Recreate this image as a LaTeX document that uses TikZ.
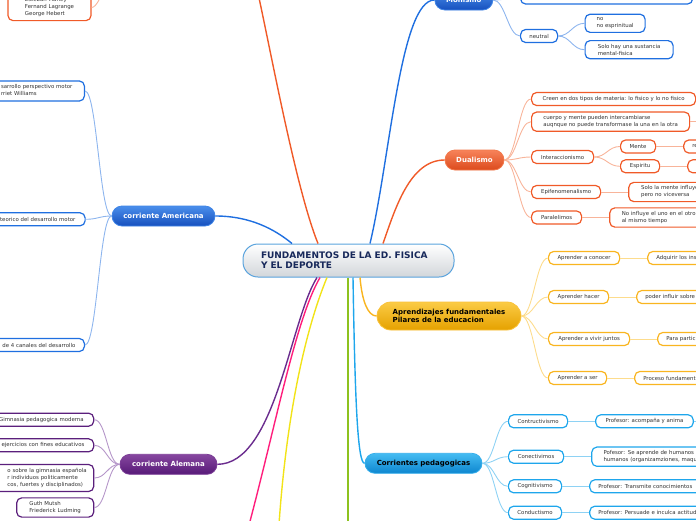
\documentclass[tikz,border=0pt]{standalone}
\usepackage{fontspec}
\setmainfont{DejaVu Sans}
\usetikzlibrary{positioning}

\definecolor{rootline}{HTML}{5AA3DD}
\definecolor{rootgray}{HTML}{D2D6DA}
\definecolor{rootnavy}{HTML}{17285A}
\definecolor{leafgray}{HTML}{333333}
\definecolor{blueline}{HTML}{1F6FE0}
\definecolor{bluetwig}{HTML}{8DB5EE}
\definecolor{orangeline}{HTML}{F05A28}
\definecolor{orangetwig}{HTML}{F8B49A}
\definecolor{yellowline}{HTML}{F9B520}
\definecolor{yellowtwig}{HTML}{FDDC8C}
\definecolor{cyanline}{HTML}{1EA6EC}
\definecolor{cyantwig}{HTML}{8ED2F4}
\definecolor{purpleline}{HTML}{5B1F7C}
\definecolor{purpletwig}{HTML}{B596C9}
\definecolor{greenline}{HTML}{8DC21F}
\definecolor{lemonline}{HTML}{F2E318}
\definecolor{pinkline}{HTML}{FF1E7C}
\definecolor{violetline}{HTML}{6A2C8E}
\definecolor{blueedge}{HTML}{3F84E6}
\definecolor{bluetop}{HTML}{4A8EEB}
\definecolor{bluebottom}{HTML}{1650BE}
\definecolor{orangeedge}{HTML}{F2784A}
\definecolor{orangetop}{HTML}{F7835A}
\definecolor{orangebottom}{HTML}{DC4A1C}
\definecolor{yellowedge}{HTML}{F9C23A}
\definecolor{yellowtop}{HTML}{FBCB45}
\definecolor{yellowbottom}{HTML}{E5A100}
\definecolor{cyanedge}{HTML}{35AEEB}
\definecolor{cyantop}{HTML}{45BCF2}
\definecolor{cyanbottom}{HTML}{0D86CF}
\definecolor{purpleedge}{HTML}{7B3D96}
\definecolor{purpletop}{HTML}{86479F}
\definecolor{purplebottom}{HTML}{571A78}

\begin{document}
\begin{tikzpicture}[
    x=1pt, y=-1pt,
    node distance=27pt,
    root/.style={draw=rootline, line width=1pt, rounded corners=15pt, top color=white, bottom color=rootgray, text=rootnavy, font=\fontsize{9}{10}\selectfont\bfseries, text width=175pt, align=left, inner xsep=18pt, minimum height=33pt},
    branch/.style={rounded corners=10pt, line width=0.8pt, minimum height=20pt, font=\fontsize{7}{8}\selectfont\bfseries, text=white},
    bluebranch/.style={branch, draw=blueedge, top color=bluetop, bottom color=bluebottom},
    orangebranch/.style={branch, draw=orangeedge, top color=orangetop, bottom color=orangebottom},
    yellowbranch/.style={branch, draw=yellowedge, top color=yellowtop, bottom color=yellowbottom, text=black},
    cyanbranch/.style={branch, draw=cyanedge, top color=cyantop, bottom color=cyanbottom, text=black},
    purplebranch/.style={branch, draw=purpleedge, top color=purpletop, bottom color=purplebottom},
    leaf/.style={draw, fill=white, rounded corners=5pt, line width=1.2pt, minimum height=13pt, inner xsep=8.5pt, inner ysep=3.5pt, font=\fontsize{5.4}{7}\selectfont, text=leafgray, align=left},
    cutleft/.style={leaf, anchor=east, text width=110pt, align=right},
    cutright/.style={leaf, text width=100pt, align=left},
    trunk/.style={line width=1.4pt},
    twig/.style={line width=0.9pt}
]
\useasboundingbox (0,0) rectangle (696,520);
\clip (0,0) rectangle (696,520);

\node[root] (fund) at (348.5,260.5) {FUNDAMENTOS DE LA ED. FISICA\\Y EL DEPORTE};

\coordinate (histA) at (250,-40);
\coordinate (histB) at (125,-40);
\coordinate (verde) at (348,530);
\coordinate (amarillo) at (278,540);
\coordinate (rosa) at (245,540);

\node[leaf, draw=orangeline, minimum width=83pt] (deportistas) at (49.5,7.5) {Esteban Marley\\Fernand Lagrange\\George Hebert};

\node[bluebranch, minimum width=103pt] (americana) at (163.5,216) {corriente Americana};
\node[cutleft, draw=blueline, inner xsep=12pt, inner ysep=3pt] (perspectivo) at (85,91) {\begin{tabular}{@{}l@{}}sarrollo perspectivo motor\\rriet Williams\end{tabular}};
\node[cutleft, draw=blueline, inner xsep=9.7pt] (teorico) at (85.7,219.3) {teorico del desarrollo motor};
\node[cutleft, draw=blueline, inner xsep=9pt] (canales) at (85,345) {de 4 canales del desarrollo};

\node[purplebranch, minimum width=97pt] (alemana) at (168.5,464.3) {corriente Alemana};
\node[cutleft, draw=purpleline, inner xsep=10pt] (gimnasia) at (94.3,419.7) {Gimnasia pedagogica moderna};
\node[cutleft, draw=purpleline, inner xsep=9.3pt] (ejercicios) at (94.3,445.3) {ejercicios con fines educativos};
\node[cutleft, draw=purpleline, inner xsep=7pt, inner ysep=3pt] (espanola) at (94.3,478) {\begin{tabular}{@{}l@{}}o sobre la gimnasia española\\r individuos politicamente\\cos, fuertes y disciplinados)\end{tabular}};
\node[leaf, draw=purpleline, minimum width=77pt, anchor=east] (guth) at (94.3,507.5) {Guth Mutsh\\Friederick Ludming};

\node[bluebranch, minimum width=58pt] (monismo) at (463.8,0) {Monismo};
\node[leaf, draw=blueline, minimum width=172pt, anchor=west] (materia) at (520,-2.5) {};
\node[leaf, draw=blueline, minimum width=37pt, anchor=west] (neutral) at (520,36) {neutral};
\node[leaf, draw=blueline, minimum width=60pt, anchor=west] (noesp) at (584.5,23.3) {no\\no esprinitual};
\node[leaf, draw=blueline, minimum width=88pt, anchor=west] (sustancia) at (584.5,49.7) {Solo hay una sustancia\\mental-fisica};

\node[orangebranch, minimum width=59pt] (dualismo) at (474.5,160) {Dualismo};
\node[leaf, draw=orangeline, minimum width=164pt, anchor=west] (creen) at (531,99) {Creen en dos tipos de materia: lo fisico y lo no fisico};
\node[leaf, draw=orangeline, minimum width=158pt, anchor=west] (cuerpo) at (531,121.7) {cuerpo y mente pueden intercambiarse\\auqnque no puede transformase la una en la otra};
\node[leaf, draw=orangeline, minimum width=62pt, anchor=west] (interac) at (531,157) {Interaccionismo};
\node[leaf, draw=orangeline, minimum width=35pt, anchor=west] (mente) at (620,146.5) {Mente};
\node[leaf, draw=orangeline, minimum width=39pt, anchor=west] (espiritu) at (620,166.3) {Espiritu};
\node[cutright, draw=orangeline, right=of mente] (menteB) {re};
\node[cutright, draw=orangeline, right=of espiritu] (espirituB) {r};
\node[leaf, draw=orangeline, minimum width=69pt, anchor=west] (epife) at (531,192) {Epifenomenalismo};
\node[cutright, draw=orangeline, inner xsep=12.3pt, right=of epife] (epifeB) {Solo la mente influye\\pero no viceversa};
\node[leaf, draw=orangeline, minimum width=50pt, anchor=west] (parale) at (531,217.5) {Paralelimos};
\node[cutright, draw=orangeline, inner xsep=12pt, right=of parale] (paraleB) {No influye el uno en el otro\\al mismo tiempo};
\coordinate (cuerpoC) at (720,121.7);

\node[yellowbranch, minimum width=144pt, minimum height=28pt, rounded corners=14pt, align=left] (aprend) at (449,316) {Aprendizajes fundamentales\\Pilares de la educacion};
\node[leaf, draw=yellowline, minimum width=71pt, anchor=west] (conocer) at (548,258) {Aprender a conocer};
\node[cutright, draw=yellowline, right=of conocer] (conocerB) {Adquirir los ins};
\node[leaf, draw=yellowline, minimum width=60pt, anchor=west] (hacer) at (548,297) {Aprender hacer};
\node[cutright, draw=yellowline, right=of hacer] (hacerB) {poder influir sobre};
\node[leaf, draw=yellowline, minimum width=81pt, anchor=west] (vivir) at (548,339) {Aprender a vivir juntos};
\node[cutright, draw=yellowline, right=of vivir] (vivirB) {Para partici};
\node[leaf, draw=yellowline, minimum width=58pt, anchor=west] (ser) at (548,378) {Aprender a ser};
\node[cutright, draw=yellowline, right=of ser] (serB) {Proceso fundament};

\node[cyanbranch, minimum width=117pt] (corrientes) at (423.5,463.3) {Corrientes pedagogicas};
\node[leaf, draw=cyanline, minimum width=59pt, anchor=west] (constr) at (508,421.3) {Contructivismo};
\node[leaf, draw=cyanline, minimum width=97.4pt, right=of constr] (constrB) {Profesor: acompaña y anima};
\node[leaf, draw=cyanline, minimum width=55pt, anchor=west] (conect) at (508,456.7) {Conectivimos};
\node[cutright, draw=cyanline, inner xsep=11.7pt, right=of conect] (conectB) {Pofesor: Se aprende de humanos\\humanos (organizamziones, maqu};
\node[leaf, draw=cyanline, minimum width=53pt, anchor=west] (cognit) at (508,486.3) {Cognitivismo};
\node[cutright, draw=cyanline, right=of cognit] (cognitB) {Profesor: Transmite conocimientos};
\node[leaf, draw=cyanline, minimum width=53pt, anchor=west] (conduct) at (508,512.7) {Conductismo};
\node[cutright, draw=cyanline, right=of conduct] (conductB) {Profesor: Persuade e inculca actitud};
\coordinate (constrC) at (720,421.3);

\draw[trunk, blueline] ([xshift=-56.5pt]fund.north) .. controls +(-17,-14) and +(35,0) .. (americana.east);
\draw[trunk, orangeline] ([xshift=-30.5pt]fund.north) .. controls +(-26,-64) and +(12,40) .. (histA);
\draw[trunk, blueline] ([xshift=21.5pt]fund.north) .. controls +(20,-84) and +(-34,0) .. (monismo.west);
\draw[trunk, orangeline] ([xshift=34.5pt]fund.north) .. controls +(12,-34) and +(-35,0) .. (dualismo.west);
\draw[trunk, yellowline] ([xshift=11.5pt]fund.south) .. controls +(2,23) and +(-9,0) .. (aprend.west);
\draw[trunk, cyanline] ([xshift=4.5pt]fund.south) .. controls +(2,123) and +(-7,0) .. (corrientes.west);
\draw[trunk, greenline] ([xshift=-0.5pt]fund.south) -- (verde);
\draw[trunk, lemonline] ([xshift=-21.5pt]fund.south) .. controls +(-22,53) and +(7,-120) .. (amarillo);
\draw[trunk, pinkline] ([xshift=-28.5pt]fund.south) .. controls +(-25,43) and +(30,-110) .. (rosa);
\draw[trunk, violetline] ([xshift=-31.5pt]fund.south) .. controls +(-27,43) and +(58,0) .. (alemana.east);

\draw[twig, orangetwig] (deportistas.east) .. controls +(10,0) and +(-15,0) .. (histB);

\draw[twig, bluetwig] (americana.west) .. controls +(-12,0) and +(12,0) .. (perspectivo.east);
\draw[twig, bluetwig] (americana.west) .. controls +(-12,0) and +(12,0) .. (teorico.east);
\draw[twig, bluetwig] (americana.west) .. controls +(-12,0) and +(12,0) .. (canales.east);

\draw[twig, purpletwig] (alemana.west) .. controls +(-12,0) and +(12,0) .. (gimnasia.east);
\draw[twig, purpletwig] (alemana.west) .. controls +(-12,0) and +(12,0) .. (ejercicios.east);
\draw[twig, purpletwig] (alemana.west) .. controls +(-12,0) and +(12,0) .. (espanola.east);
\draw[twig, purpletwig] (alemana.west) .. controls +(-12,0) and +(12,0) .. (guth.east);

\draw[twig, bluetwig] (monismo.east) .. controls +(12,0) and +(-12,0) .. (materia.west);
\draw[twig, bluetwig] (monismo.east) .. controls +(12,0) and +(-12,0) .. (neutral.west);
\draw[twig, bluetwig] (neutral.east) .. controls +(12,0) and +(-12,0) .. (noesp.west);
\draw[twig, bluetwig] (neutral.east) .. controls +(12,0) and +(-12,0) .. (sustancia.west);

\draw[twig, orangetwig] (dualismo.east) .. controls +(12,0) and +(-12,0) .. (creen.west);
\draw[twig, orangetwig] (dualismo.east) .. controls +(12,0) and +(-12,0) .. (cuerpo.west);
\draw[twig, orangetwig] (dualismo.east) .. controls +(12,0) and +(-12,0) .. (interac.west);
\draw[twig, orangetwig] (dualismo.east) .. controls +(12,0) and +(-12,0) .. (epife.west);
\draw[twig, orangetwig] (dualismo.east) .. controls +(12,0) and +(-12,0) .. (parale.west);
\draw[twig, orangetwig] (cuerpo.east) -- (cuerpoC);
\draw[twig, orangetwig] (interac.east) .. controls +(12,0) and +(-12,0) .. (mente.west);
\draw[twig, orangetwig] (interac.east) .. controls +(12,0) and +(-12,0) .. (espiritu.west);
\draw[twig, orangetwig] (mente.east) -- (menteB.west);
\draw[twig, orangetwig] (espiritu.east) -- (espirituB.west);
\draw[twig, orangetwig] (epife.east) -- (epifeB.west);
\draw[twig, orangetwig] (parale.east) -- (paraleB.west);

\draw[twig, yellowtwig] (aprend.east) .. controls +(12,0) and +(-12,0) .. (conocer.west);
\draw[twig, yellowtwig] (aprend.east) .. controls +(12,0) and +(-12,0) .. (hacer.west);
\draw[twig, yellowtwig] (aprend.east) .. controls +(12,0) and +(-12,0) .. (vivir.west);
\draw[twig, yellowtwig] (aprend.east) .. controls +(12,0) and +(-12,0) .. (ser.west);
\draw[twig, yellowtwig] (conocer.east) -- (conocerB.west);
\draw[twig, yellowtwig] (hacer.east) -- (hacerB.west);
\draw[twig, yellowtwig] (vivir.east) -- (vivirB.west);
\draw[twig, yellowtwig] (ser.east) -- (serB.west);

\draw[twig, cyantwig] (corrientes.east) .. controls +(12,0) and +(-12,0) .. (constr.west);
\draw[twig, cyantwig] (corrientes.east) .. controls +(12,0) and +(-12,0) .. (conect.west);
\draw[twig, cyantwig] (corrientes.east) .. controls +(12,0) and +(-12,0) .. (cognit.west);
\draw[twig, cyantwig] (corrientes.east) .. controls +(12,0) and +(-12,0) .. (conduct.west);
\draw[twig, cyantwig] (constr.east) -- (constrB.west);
\draw[twig, cyantwig] (constrB.east) -- (constrC);
\draw[twig, cyantwig] (conect.east) -- (conectB.west);
\draw[twig, cyantwig] (cognit.east) -- (cognitB.west);
\draw[twig, cyantwig] (conduct.east) -- (conductB.west);
\end{tikzpicture}
\end{document}
